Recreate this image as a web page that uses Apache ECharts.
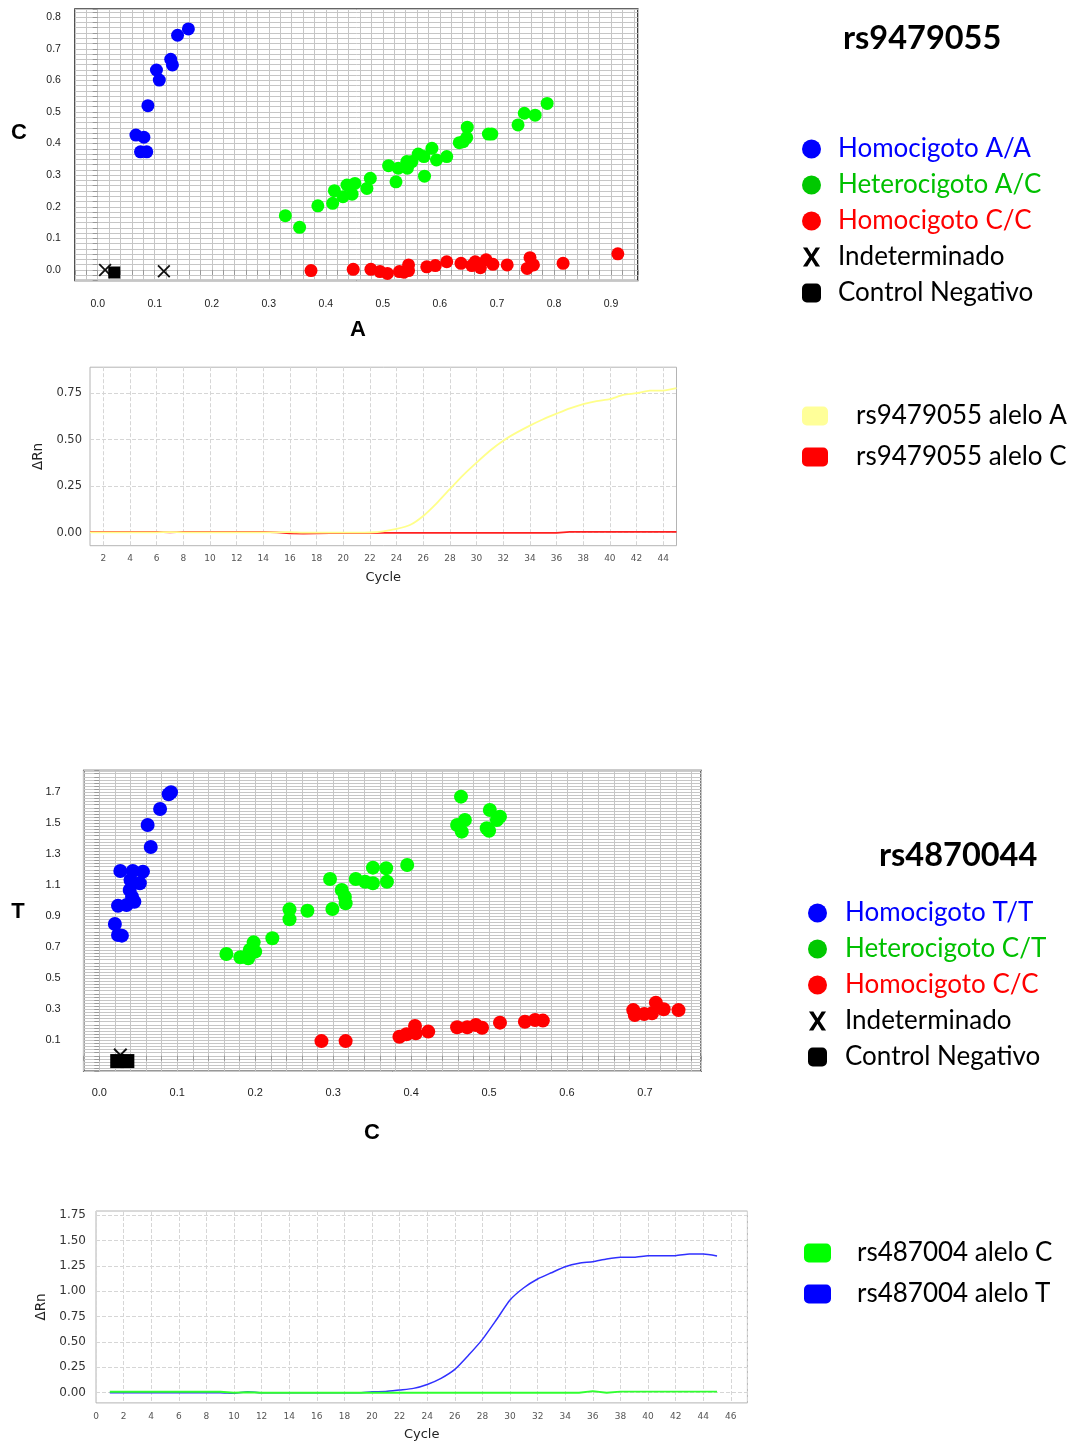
<!DOCTYPE html>
<html><head><meta charset="utf-8">
<script src="https://cdn.jsdelivr.net/npm/echarts@6/dist/echarts.min.js"></script>
<style>html,body{margin:0;padding:0;background:#fff}#c{width:1073px;height:1443px}</style>
</head><body><div id="c"></div>
<script>
// ===== rs9479055 allelic discrimination (x: allele A, y: allele C) =====
const s1_homAA = [[0.159,0.763],[0.140,0.743],[0.128,0.667],[0.131,0.649],[0.103,0.633],[0.108,0.601],[0.088,0.520],[0.067,0.427],[0.081,0.420],[0.075,0.374],[0.086,0.374]];
const s1_hetAC = [[0.329,0.172],[0.354,0.135],[0.386,0.203],[0.412,0.211],[0.415,0.251],[0.430,0.232],[0.437,0.269],[0.446,0.240],[0.451,0.274],[0.472,0.258],[0.478,0.290],[0.510,0.330],[0.523,0.279],[0.527,0.322],[0.542,0.343],[0.543,0.322],[0.551,0.343],[0.562,0.367],[0.573,0.297],[0.572,0.359],[0.586,0.385],[0.594,0.348],[0.612,0.359],[0.634,0.403],[0.641,0.406],[0.647,0.419],[0.648,0.452],[0.685,0.430],[0.691,0.430],[0.737,0.459],[0.748,0.496],[0.767,0.490],[0.788,0.527]];
const s1_homCC = [[0.374,-0.002],[0.448,0.002],[0.479,0.002],[0.495,-0.005],[0.508,-0.011],[0.529,-0.005],[0.537,-0.007],[0.545,0.016],[0.545,-0.002],[0.577,0.010],[0.592,0.014],[0.612,0.026],[0.637,0.021],[0.656,0.014],[0.662,0.026],[0.671,0.007],[0.681,0.032],[0.693,0.018],[0.718,0.016],[0.758,0.039],[0.753,0.005],[0.764,0.016],[0.816,0.021],[0.912,0.051]];
const s1_undet = [[0.013,0.0],[0.116,-0.004]];
const s1_negCtrl = [[0.029,-0.008]];

// ===== rs4870044 allelic discrimination (x: allele C, y: allele T) =====
const s2_homTT = [[0.092,1.700],[0.089,1.687],[0.078,1.592],[0.062,1.489],[0.066,1.347],[0.027,1.192],[0.043,1.192],[0.056,1.188],[0.040,1.134],[0.052,1.113],[0.039,1.070],[0.042,1.026],[0.045,0.994],[0.035,0.973],[0.024,0.968],[0.020,0.850],[0.024,0.779],[0.029,0.775]];
const s2_hetCT = [[0.163,0.657],[0.181,0.636],[0.191,0.629],[0.193,0.683],[0.198,0.732],[0.200,0.672],[0.222,0.758],[0.244,0.945],[0.244,0.881],[0.267,0.936],[0.296,1.141],[0.299,0.947],[0.311,1.070],[0.315,1.026],[0.316,0.984],[0.329,1.141],[0.341,1.123],[0.351,1.214],[0.351,1.113],[0.368,1.210],[0.369,1.123],[0.395,1.231],[0.464,1.672],[0.459,1.489],[0.469,1.521],[0.465,1.446],[0.501,1.586],[0.497,1.468],[0.500,1.452],[0.514,1.543],[0.510,1.521]];
const s2_homCC = [[0.285,0.095],[0.316,0.095],[0.385,0.123],[0.394,0.139],[0.405,0.192],[0.406,0.145],[0.422,0.156],[0.459,0.184],[0.472,0.184],[0.483,0.199],[0.491,0.181],[0.514,0.214],[0.546,0.220],[0.559,0.231],[0.569,0.227],[0.685,0.295],[0.687,0.263],[0.699,0.270],[0.709,0.274],[0.714,0.343],[0.724,0.300],[0.743,0.295]];
const s2_undet = [[0.027,0.005]];
const s2_negCtrl = [[0.023,-0.034],[0.036,-0.034]];

// ===== Amplification curves =====
const cycles = [1,2,3,4,5,6,7,8,9,10,11,12,13,14,15,16,17,18,19,20,21,22,23,24,25,26,27,28,29,30,31,32,33,34,35,36,37,38,39,40,41,42,43,44,45];
const rs9479055_aleloA = [0.002,0.002,0.002,0.002,0.002,0.002,0.003,0.002,0.002,0.002,0.002,0.002,0.002,0.002,0.002,0.003,0.000,0.000,0.000,0.000,0.000,0.001,0.007,0.020,0.041,0.090,0.158,0.235,0.310,0.377,0.441,0.495,0.538,0.576,0.610,0.640,0.669,0.692,0.708,0.718,0.741,0.750,0.764,0.764,0.777];
const rs9479055_aleloC = [0.004,0.004,0.004,0.004,0.004,0.004,0.002,0.004,0.004,0.004,0.004,0.004,0.004,0.004,0.002,-0.003,-0.005,-0.004,-0.002,-0.002,-0.002,-0.002,-0.001,-0.001,-0.001,-0.001,-0.001,-0.001,-0.001,-0.001,-0.001,-0.001,-0.001,-0.001,-0.001,-0.001,0.004,0.004,0.004,0.004,0.004,0.004,0.004,0.004,0.004];
const rs487004_aleloC = [0.010,0.010,0.010,0.010,0.010,0.010,0.010,0.010,0.010,0.000,0.005,0,0,0,0,0,0,0,0,0,0,0,0,0,0,0,0,0,0,0,0,0,0,0,0,0.015,0.000,0.012,0.012,0.012,0.012,0.012,0.012,0.012,0.012];
const rs487004_aleloT = [0.000,0.000,0.000,0.000,0.000,0.000,0.000,0.000,0.000,-0.005,0.010,0,0,0,0,0,0,0,0,0.010,0.012,0.027,0.043,0.082,0.142,0.230,0.371,0.526,0.716,0.913,1.034,1.120,1.182,1.241,1.275,1.291,1.317,1.334,1.334,1.350,1.350,1.350,1.366,1.366,1.347];

// ===== helpers =====
const X_THIN = 'path://M0,1.4L1.4,0L7,5.6L12.6,0L14,1.4L8.4,7L14,12.6L12.6,14L7,8.4L1.4,14L0,12.6L5.6,7Z';
const X_BOLD = 'path://M0,0L4.6,0L9,7.2L13.4,0L18,0L11.4,10L18,20L13.4,20L9,12.8L4.6,20L0,20L6.6,10Z';
const near = (a,b)=>Math.abs(a-b)<1e-6;
const fmtTenths = v => { const k=Math.round(v*10); return (near(v*10,k) && k>=0) ? (k/10).toFixed(1) : ''; };
const fmtOddTenths = v => { const k=Math.round(v*10); return (near(v*10,k) && k>0 && k%2===1) ? (k/10).toFixed(1) : ''; };
const fmtSixtieth = v => { const k=Math.round(v*60); return (Math.abs(v*60-k)<1e-3 && k>=0 && k%6===0) ? (k/60).toFixed(1) : ''; };
const fmtQuarter = v => { const k=Math.round(v*4); return (near(v*4,k) && k>=0) ? (k/4).toFixed(2) : ''; };
const fmtEven = v => { const k=Math.round(v); return (near(v,k) && k%2===0) ? String(k) : ''; };
const cycleCats = cycles.map(String);
const evenCat = (i, v) => (+v) % 2 === 0;
const cycleColorTop = Array.from({length:25},(_,i)=> i===7 ? '#d6d6d6' : 'rgba(0,0,0,0)');
const cycleColorBot = Array.from({length:5},(_,i)=> i===2 ? '#d6d6d6' : 'rgba(0,0,0,0)');

const scatAxisLabel = {color:'#222', fontFamily:'Liberation Sans', fontSize:10.5};
const gridLineScat = {show:true, lineStyle:{color:'#c6c6c6', width:1}};
const tickScat = {show:true, length:5, lineStyle:{color:'#999'}};
const lineFont = 'DejaVu Sans';

const chart = echarts.init(document.getElementById('c'), null, {renderer:'canvas'});
chart.setOption({
  animation:false,
  backgroundColor:'#fff',
  title:[
    {text:'rs9479055', left:843, top:22, padding:0, textStyle:{fontFamily:'Lato', fontWeight:'bold', fontSize:32.5, color:'#000'}},
    {text:'rs4870044', left:879, top:839, padding:0, textStyle:{fontFamily:'Lato', fontWeight:'bold', fontSize:32.5, color:'#000'}}
  ],
  graphic:[
    {type:'text', x:19, y:133, style:{text:'C', fill:'#000', font:'bold 22px "Liberation Sans"', align:'center', verticalAlign:'middle'}},
    {type:'text', x:358, y:330, style:{text:'A', fill:'#000', font:'bold 22px "Liberation Sans"', align:'center', verticalAlign:'middle'}},
    {type:'text', x:18, y:912, style:{text:'T', fill:'#000', font:'bold 22px "Liberation Sans"', align:'center', verticalAlign:'middle'}},
    {type:'text', x:372, y:1133, style:{text:'C', fill:'#000', font:'bold 22px "Liberation Sans"', align:'center', verticalAlign:'middle'}}
  ],
  legend:[
    {left:802, top:136, orient:'vertical', padding:0, itemWidth:19, itemHeight:19, itemGap:10, selectedMode:false,
     textStyle:{fontFamily:'Lato', fontSize:26, lineHeight:26, padding:[0,0,0,12]},
     data:[
       {name:'Homocigoto A/A', icon:'circle', itemStyle:{color:'#0000ff'}, textStyle:{color:'#0000ff'}},
       {name:'Heterocigoto A/C', icon:'circle', itemStyle:{color:'#00c800'}, textStyle:{color:'#00c000'}},
       {name:'Homocigoto C/C', icon:'circle', itemStyle:{color:'#ff0000'}, textStyle:{color:'#ff0000'}},
       {name:'Indeterminado', icon:X_BOLD, itemStyle:{color:'#000'}, textStyle:{color:'#000'}},
       {name:'Control Negativo', icon:'roundRect', itemStyle:{color:'#000'}, textStyle:{color:'#000'}}
     ]},
    {left:802, top:403, orient:'vertical', padding:0, itemWidth:26, itemHeight:19, itemGap:15, selectedMode:false, icon:'roundRect',
     textStyle:{fontFamily:'Lato', fontSize:26, lineHeight:26, color:'#000', padding:[0,0,0,23]},
     data:[
       {name:'rs9479055 alelo A', itemStyle:{color:'#ffff99'}},
       {name:'rs9479055 alelo C', itemStyle:{color:'#ff0000'}}
     ]},
    {left:808, top:900, orient:'vertical', padding:0, itemWidth:19, itemHeight:19, itemGap:10, selectedMode:false,
     textStyle:{fontFamily:'Lato', fontSize:26, lineHeight:26, padding:[0,0,0,13]},
     data:[
       {name:'Homocigoto T/T', icon:'circle', itemStyle:{color:'#0000ff'}, textStyle:{color:'#0000ff'}},
       {name:'Heterocigoto C/T', icon:'circle', itemStyle:{color:'#00c800'}, textStyle:{color:'#00c000'}},
       {name:'Homocigoto C/C', icon:'circle', itemStyle:{color:'#ff0000'}, textStyle:{color:'#ff0000'}},
       {name:'Indeterminado', icon:X_BOLD, itemStyle:{color:'#000'}, textStyle:{color:'#000'}},
       {name:'Control Negativo', icon:'roundRect', itemStyle:{color:'#000'}, textStyle:{color:'#000'}}
     ]},
    {left:804, top:1240, orient:'vertical', padding:0, itemWidth:27, itemHeight:19, itemGap:15, selectedMode:false, icon:'roundRect',
     textStyle:{fontFamily:'Lato', fontSize:26, lineHeight:26, color:'#000', padding:[0,0,0,21]},
     data:[
       {name:'rs487004 alelo C', itemStyle:{color:'#00ff00'}},
       {name:'rs487004 alelo T', itemStyle:{color:'#0000ff'}}
     ]}
  ],
  grid:[
    {left:74.9, top:9, width:562.9, height:271.5, show:true, borderColor:'#333', borderWidth:1.5, backgroundColor:'#fff', outerBoundsMode:'none'},
    {left:90, top:367.2, width:586.5, height:178.5, show:true, borderColor:'#b4b4b4', borderWidth:1, outerBoundsMode:'none'},
    {left:83.7, top:770.6, width:617.4, height:300.7, show:true, borderColor:'#333', borderWidth:1.5, backgroundColor:'#fff', outerBoundsMode:'none'},
    {left:96, top:1211, width:651.4, height:191.9, show:true, borderColor:'#b4b4b4', borderWidth:1, outerBoundsMode:'none'}
  ],
  xAxis:[
    {gridIndex:0, type:'value', min:-0.04, max:0.947, interval:0.02, axisLine:{show:false}, axisTick:tickScat, splitLine:gridLineScat,
     axisLabel:Object.assign({formatter:fmtTenths, margin:18}, scatAxisLabel)},
    {gridIndex:1, type:'category', data:cycleCats, boundaryGap:false, axisLine:{show:false}, axisTick:{show:false},
     splitLine:{show:true, interval:evenCat, lineStyle:{color:'#d6d6d6', type:'dashed'}},
     axisLabel:{interval:evenCat, color:'#555', fontFamily:lineFont, fontSize:9, margin:8},
     name:'Cycle', nameLocation:'middle', nameGap:25, nameTextStyle:{fontFamily:lineFont, fontSize:13, color:'#222'}},
    {gridIndex:2, type:'value', min:-0.02, max:0.772, interval:0.02, axisLine:{show:false}, axisTick:tickScat, splitLine:gridLineScat,
     axisLabel:Object.assign({formatter:fmtTenths, margin:16}, scatAxisLabel, {fontSize:11})},
    {gridIndex:3, type:'value', min:0, max:47.2, interval:2, axisLine:{show:false}, axisTick:{show:false},
     splitLine:{show:true, lineStyle:{color:'#d6d6d6', type:'dashed'}},
     axisLabel:{formatter:fmtEven, color:'#555', fontFamily:lineFont, fontSize:9, margin:9},
     name:'Cycle', nameLocation:'middle', nameGap:25, nameTextStyle:{fontFamily:lineFont, fontSize:13, color:'#222'}}
  ],
  yAxis:[
    {gridIndex:0, type:'value', min:-2/60, max:0.826, interval:1/60, axisLine:{show:false}, axisTick:tickScat, splitLine:gridLineScat,
     axisLabel:Object.assign({formatter:fmtSixtieth, margin:14}, scatAxisLabel)},
    {gridIndex:1, type:'value', min:-0.07, max:0.89, interval:0.01, axisLine:{show:false}, axisTick:{show:false},
     splitLine:{show:true, lineStyle:{color:cycleColorTop, type:'dashed'}},
     axisLabel:{formatter:fmtQuarter, color:'#333', fontFamily:lineFont, fontSize:11.5, margin:8},
     name:'ΔRn', nameLocation:'middle', nameGap:38, nameRotate:90, nameTextStyle:{fontFamily:lineFont, fontSize:13.5, color:'#222'}},
    {gridIndex:2, type:'value', min:-0.1, max:1.84, interval:0.02, axisLine:{show:false}, axisTick:tickScat, splitLine:gridLineScat,
     axisLabel:Object.assign({formatter:fmtOddTenths, margin:23}, scatAxisLabel, {fontSize:11})},
    {gridIndex:3, type:'value', min:-0.1, max:1.79, interval:0.05, axisLine:{show:false}, axisTick:{show:false},
     splitLine:{show:true, lineStyle:{color:cycleColorBot, type:'dashed'}},
     axisLabel:{formatter:fmtQuarter, color:'#333', fontFamily:lineFont, fontSize:12, margin:10},
     name:'ΔRn', nameLocation:'middle', nameGap:44, nameRotate:90, nameTextStyle:{fontFamily:lineFont, fontSize:13.5, color:'#222'}}
  ],
  series:[
    {type:'scatter', name:'Homocigoto A/A', xAxisIndex:0, yAxisIndex:0, data:s1_homAA, symbol:'circle', symbolSize:13, itemStyle:{color:'#0000ff', opacity:1}},
    {type:'scatter', name:'Heterocigoto A/C', xAxisIndex:0, yAxisIndex:0, data:s1_hetAC, symbol:'circle', symbolSize:13, itemStyle:{color:'#00ff00', opacity:1}},
    {type:'scatter', name:'Homocigoto C/C', xAxisIndex:0, yAxisIndex:0, data:s1_homCC, symbol:'circle', symbolSize:13, itemStyle:{color:'#ff0000', opacity:1}},
    {type:'scatter', name:'Indeterminado', xAxisIndex:0, yAxisIndex:0, data:s1_undet, symbol:X_THIN, symbolSize:13, itemStyle:{color:'#111', opacity:1}},
    {type:'scatter', name:'Control Negativo', xAxisIndex:0, yAxisIndex:0, data:s1_negCtrl, symbol:'rect', symbolSize:12, itemStyle:{color:'#000', opacity:1}},

    {type:'line', name:'rs9479055 alelo C', xAxisIndex:1, yAxisIndex:1, data:rs9479055_aleloC, showSymbol:false, lineStyle:{color:'#ff2020', width:1.8}, itemStyle:{color:'#ff0000'}},
    {type:'line', name:'rs9479055 alelo A', xAxisIndex:1, yAxisIndex:1, data:rs9479055_aleloA, showSymbol:false, smooth:0.2, lineStyle:{color:'#ffff8a', width:1.8}, itemStyle:{color:'#ffff99'}},

    {type:'scatter', name:'Homocigoto T/T', xAxisIndex:2, yAxisIndex:2, data:s2_homTT, symbol:'circle', symbolSize:14, itemStyle:{color:'#0000ff', opacity:1}},
    {type:'scatter', name:'Heterocigoto C/T', xAxisIndex:2, yAxisIndex:2, data:s2_hetCT, symbol:'circle', symbolSize:14, itemStyle:{color:'#00ff00', opacity:1}},
    {type:'scatter', name:'Homocigoto C/C', xAxisIndex:2, yAxisIndex:2, data:s2_homCC, symbol:'circle', symbolSize:14, itemStyle:{color:'#ff0000', opacity:1}},
    {type:'scatter', name:'Indeterminado', xAxisIndex:2, yAxisIndex:2, data:s2_undet, symbol:X_THIN, symbolSize:14, itemStyle:{color:'#111', opacity:1}},
    {type:'scatter', name:'Control Negativo', xAxisIndex:2, yAxisIndex:2, data:s2_negCtrl, symbol:'rect', symbolSize:14, itemStyle:{color:'#000', opacity:1}},

    {type:'line', name:'rs487004 alelo T', xAxisIndex:3, yAxisIndex:3, data:cycles.map((c,i)=>[c, rs487004_aleloT[i]]), showSymbol:false, smooth:0.2, lineStyle:{color:'#3030ff', width:1.5}, itemStyle:{color:'#0000ff'}},
    {type:'line', name:'rs487004 alelo C', xAxisIndex:3, yAxisIndex:3, data:cycles.map((c,i)=>[c, rs487004_aleloC[i]]), showSymbol:false, lineStyle:{color:'#30ff30', width:1.8}, itemStyle:{color:'#00ff00'}}
  ]
});
</script>
</body></html>
